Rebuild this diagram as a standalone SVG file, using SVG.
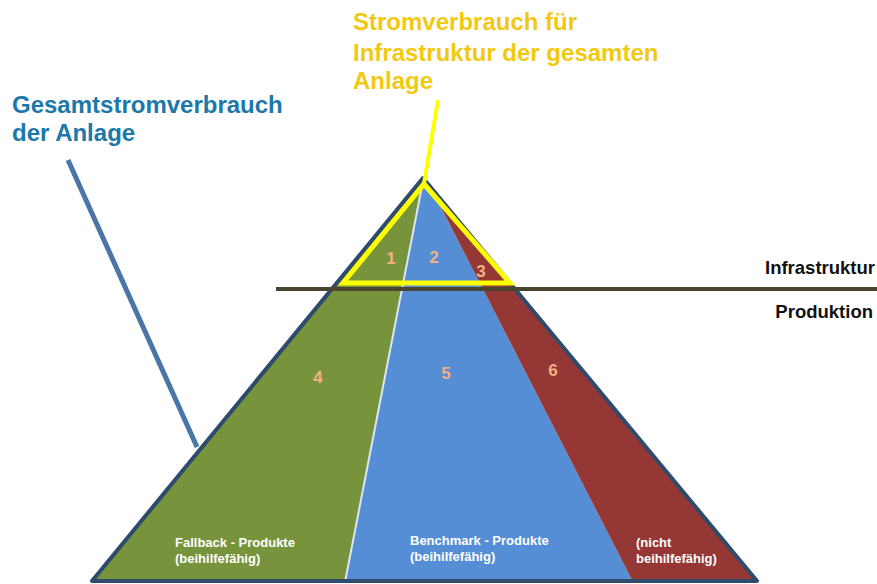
<svg xmlns="http://www.w3.org/2000/svg" width="877" height="584" viewBox="0 0 877 584">
  <style>
    .head { font-family: "Liberation Sans", Arial, sans-serif; font-weight: bold; font-size: 24px; }
    .num { font-family: "Liberation Sans", Arial, sans-serif; font-weight: bold; font-size: 17px; fill: #f4b183; text-anchor: middle; }
    .lbl { font-family: "Liberation Sans", Arial, sans-serif; font-weight: bold; font-size: 13px; fill: #ffffff; }
    .side { font-family: "Liberation Sans", Arial, sans-serif; font-weight: bold; font-size: 18.5px; fill: #111111; text-anchor: end; }
  </style>
  <rect width="877" height="584" fill="#ffffff"/>

  <!-- pyramid sectors -->
  <g id="pyramid">
    <polygon id="sector-fallback" points="423,180 345,582 92,582" fill="#77933c"/>
    <polygon id="sector-benchmark" points="423,180 428,182 633,582 345,582" fill="#558ed5"/>
    <polygon id="sector-excluded" points="428,182 423,180 757,582 633,582" fill="#953735"/>
    <line x1="423" y1="181" x2="345" y2="582" stroke="#dce6f2" stroke-width="2"/>
    <polygon points="423,178 757,581 92,581" fill="none" stroke="#2f4b6b" stroke-width="4" stroke-linejoin="round"/>
    <text class="num" x="391" y="264">1</text>
    <text class="num" x="434" y="263">2</text>
    <text class="num" x="481" y="277">3</text>
    <text class="num" x="318" y="383">4</text>
    <text class="num" x="446" y="379">5</text>
    <text class="num" x="553" y="376">6</text>
    <text class="lbl" x="175" y="547">Fallback - Produkte</text>
    <text class="lbl" x="175" y="563">(beihilfefähig)</text>
    <text class="lbl" x="410" y="545">Benchmark - Produkte</text>
    <text class="lbl" x="410" y="561">(beihilfefähig)</text>
    <text class="lbl" x="636" y="547">(nicht</text>
    <text class="lbl" x="636" y="563">beihilfefähig)</text>
  </g>

  <!-- infrastructure share, outlined in yellow -->
  <g id="infra-triangle">
    <polygon points="424,184 510,283 343,283" fill="none" stroke="#ffff00" stroke-width="5" stroke-linejoin="miter"/>
  </g>

  <!-- connectors -->
  <g id="connectors">
    <line x1="276" y1="289" x2="877" y2="289" stroke="#4a4530" stroke-width="4"/>
    <line x1="438" y1="100" x2="424" y2="184" stroke="#ffff00" stroke-width="4"/>
    <line x1="68" y1="160" x2="197" y2="447" stroke="#4a75a8" stroke-width="5"/>
  </g>

  <g id="label-infra">
    <text class="head" fill="#f2c811" x="353" y="30">Stromverbrauch für</text>
    <text class="head" fill="#f2c811" x="353" y="61">Infrastruktur der gesamten</text>
    <text class="head" fill="#f2c811" x="353" y="89">Anlage</text>
  </g>
  <g id="label-total">
    <text class="head" fill="#1c78a8" x="12" y="113">Gesamtstromverbrauch</text>
    <text class="head" fill="#1c78a8" x="12" y="141">der Anlage</text>
  </g>
  <g id="label-sides">
    <text class="side" x="875" y="274">Infrastruktur</text>
    <text class="side" x="873" y="318">Produktion</text>
  </g>
</svg>
